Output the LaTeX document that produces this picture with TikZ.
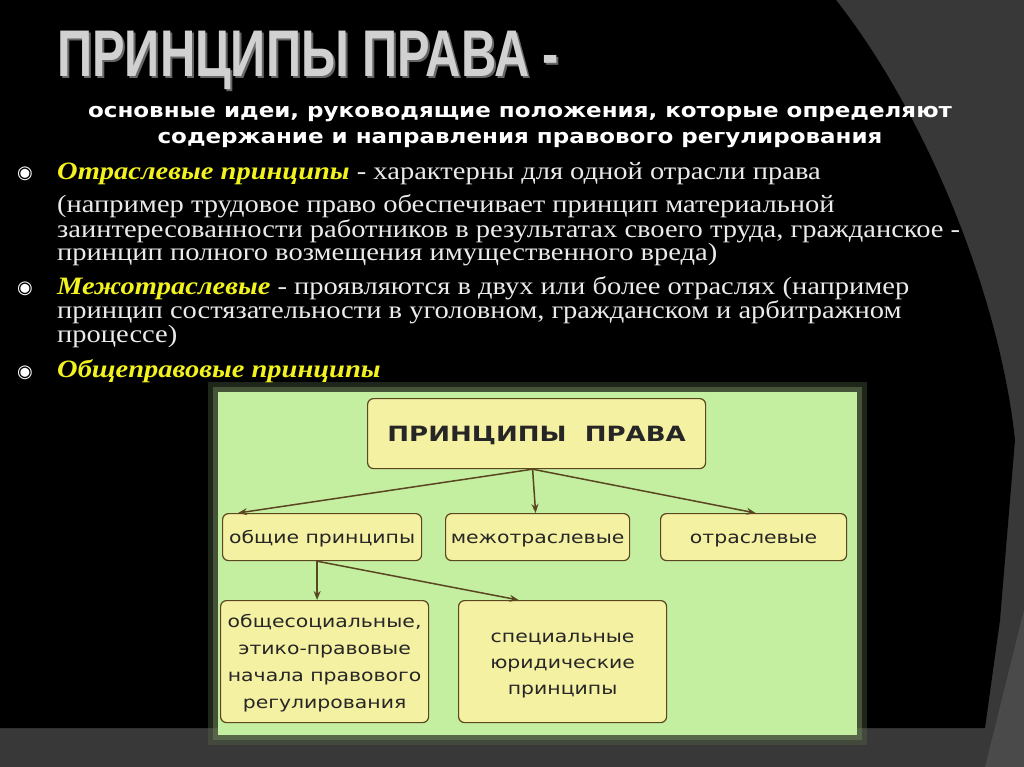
\documentclass[tikz,border=0pt]{standalone}
\usepackage{fontspec}
\setmainfont{Liberation Serif}
\newfontfamily\titlef{Liberation Sans}
\newfontfamily\dejav{DejaVu Sans}
\usetikzlibrary{arrows.meta}
\definecolor{bgdark}{HTML}{383838}
\definecolor{bggray}{HTML}{4a4a4a}
\definecolor{greenbg}{HTML}{C4EFA0}
\definecolor{cream}{HTML}{F5F1A2}
\definecolor{brownln}{HTML}{5A4620}
\definecolor{yelt}{HTML}{F2F21E}
\newcommand{\bx}[1]{\scalebox{1.2}[1]{#1}}
\tikzset{
  box/.style={draw=brownln, line width=1.2pt, fill=cream, rounded corners=6pt, inner sep=0pt, anchor=north west},
  boxtxt/.style={font=\dejav\fontsize{17}{27}\selectfont, text=black!85, align=center, inner sep=0pt},
  arr/.style={draw=brownln, line width=1.5pt, -{Stealth[length=9pt,width=7pt]}},
  body/.style={anchor=base west, text=white!92!black, inner sep=0pt, font=\fontsize{25}{28}\selectfont},
  bul/.style={anchor=base west, text=white, inner sep=0pt, font=\dejav\fontsize{18}{20}\selectfont}
}
\begin{document}
\begin{tikzpicture}[x=1pt,y=-1pt]
\useasboundingbox (0,0) rectangle (1024,767);
\fill[bgdark] (0,0) rectangle (1024,767);
\fill[black] (0,0) -- (836,0) .. controls (930,120) and (1000,300) .. (1015,440) -- (1000,620) -- (985,728) -- (0,728) -- cycle;
\fill[bggray] (1024,610) -- (1024,767) -- (985,767) -- cycle;
% title
\node[anchor=base west, inner sep=0pt, text=black!60] at (59,79) {\titlef\bfseries\fontsize{66}{70}\selectfont\scalebox{0.74}[1]{ПРИНЦИПЫ ПРАВА -}};
\node (title) [anchor=base west, inner sep=0pt, text=white!82!black] at (57,77) {\titlef\bfseries\fontsize{66}{70}\selectfont\scalebox{0.74}[1]{ПРИНЦИПЫ ПРАВА -}};
\node (sub1) [anchor=base, inner sep=0pt, text=white] at (520,118) {\dejav\bfseries\fontsize{20}{22}\selectfont\scalebox{1.15}[1]{основные идеи, руководящие положения, которые определяют}};
\node (sub2) [anchor=base, inner sep=0pt, text=white] at (520,144) {\dejav\bfseries\fontsize{20}{22}\selectfont\scalebox{1.15}[1]{содержание и направления правового регулирования}};
% bullets
\node[bul] at (17,179) {◉};
\node[bul] at (17,293) {◉};
\node[bul] at (17,377) {◉};
\node (l1) [body] at (57,180) {\scalebox{1.14}[1]{\textcolor{yelt}{\bfseries\itshape Отраслевые принципы} - характерны для одной отрасли права}};
\node (l2) [body] at (57,213) {\scalebox{1.14}[1]{(например трудовое право обеспечивает принцип материальной}};
\node (l3) [body] at (57,237) {\scalebox{1.14}[1]{заинтересованности работников в результатах своего труда, гражданское -}};
\node (l4) [body] at (57,260) {\scalebox{1.14}[1]{принцип полного возмещения имущественного вреда)}};
\node (l5) [body] at (57,294) {\scalebox{1.14}[1]{\textcolor{yelt}{\bfseries\itshape Межотраслевые} - проявляются в двух или более отраслях (например}};
\node (l6) [body] at (57,318) {\scalebox{1.14}[1]{принцип состязательности в уголовном, гражданском и арбитражном}};
\node (l7) [body] at (57,342) {\scalebox{1.14}[1]{процессе)}};
\node (l8) [body] at (57,377) {\scalebox{1.14}[1]{\textcolor{yelt}{\bfseries\itshape Общеправовые принципы}}};
% green panel glow
\fill[greenbg!45!black, opacity=0.35] (208,382) rectangle (867,745);
\fill[greenbg!55!black, opacity=0.5] (213,387) rectangle (862,740);
\fill[greenbg] (218,392) rectangle (857,735);
% boxes
\node (main) [box, minimum width=338pt, minimum height=70pt] at (367,398) {};
\node[boxtxt, anchor=base, font=\dejav\bfseries\fontsize{21}{24}\selectfont] at ([yshift=-8pt]main.center) {\scalebox{1.24}[1]{ПРИНЦИПЫ\ \ ПРАВА}};
\node (gen) [box, minimum width=199pt, minimum height=47pt] at (222,513) {};
\node[boxtxt, anchor=base] at ([yshift=-6pt]gen.center) {\bx{общие принципы}};
\node (inter) [box, minimum width=184pt, minimum height=47pt] at (445,513) {};
\node[boxtxt, anchor=base] at ([yshift=-6pt]inter.center) {\bx{межотраслевые}};
\node (branch) [box, minimum width=186pt, minimum height=47pt] at (660,513) {};
\node[boxtxt, anchor=base] at ([yshift=-6pt]branch.center) {\bx{отраслевые}};
\node (soc) [box, minimum width=208pt, minimum height=122pt] at (220,600) {};
\node[boxtxt] at ([yshift=-2pt]soc.center) {\bx{общесоциальные,}\\\bx{этико-правовые}\\\bx{начала правового}\\\bx{регулирования}};
\node (spec) [box, minimum width=208pt, minimum height=122pt] at (458,600) {};
\node[boxtxt, font=\dejav\fontsize{17}{26}\selectfont] at ([yshift=-4pt]spec.center) {\bx{специальные}\\\bx{юридические}\\\bx{принципы}};
% arrows
\coordinate (mb) at ([xshift=-4pt]main.south);
\draw[arr] (mb) -- ([xshift=-84pt]gen.north);
\draw[arr] (mb) -- ([xshift=-2pt]inter.north);
\draw[arr] (mb) -- ([xshift=2pt]branch.north);
\coordinate (gb) at ([xshift=-5pt]gen.south);
\draw[arr] (gb) -- (gb |- soc.north);
\draw[arr] (gb) -- ([xshift=-44pt]spec.north);
\end{tikzpicture}
\end{document}
